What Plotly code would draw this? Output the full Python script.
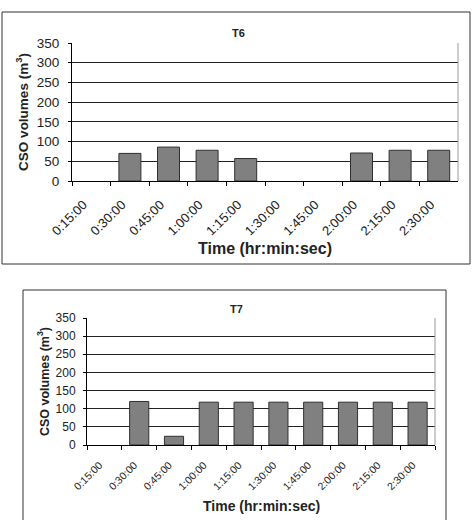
import plotly.graph_objects as go

times = ["0:15:00", "0:30:00", "0:45:00", "1:00:00", "1:15:00",
         "1:30:00", "1:45:00", "2:00:00", "2:15:00", "2:30:00"]
t6_values = [0, 70, 86, 78, 57, 0, 0, 71, 78, 78]
t7_values = [0, 120, 24, 118, 118, 118, 118, 118, 118, 118]
y_ticks = [0, 50, 100, 150, 200, 250, 300, 350]

W, H = 472, 520
FONT = "Liberation Sans, Arial, sans-serif"

def px(x):
    return x / W

def py(y):
    return 1 - y / H

fig = go.Figure()

def bar(vals, xa, ya, width):
    return go.Bar(x=times, y=vals, xaxis=xa, yaxis=ya, width=width,
                  marker=dict(color="#808080",
                              line=dict(color="#303030",
                                        width=[1 if v else 0 for v in vals])),
                  showlegend=False, hoverinfo="x+y")

fig.add_trace(bar(t6_values, "x", "y", 0.57))
fig.add_trace(bar(t7_values, "x2", "y2", 0.55))

def xaxis(domain, anchor, size, shift, standoff):
    return dict(domain=domain, anchor=anchor, type="category", tickson="boundaries",
                ticks="outside", ticklen=4, tickcolor="#000", tickwidth=1,
                showline=True, linecolor="#000", linewidth=1, showgrid=False,
                tickangle=-45, tickfont=dict(family=FONT, size=size, color="#222"),
                ticklabelshift=shift, ticklabelstandoff=standoff,
                range=[-0.5, 9.5], fixedrange=True, automargin=False)

def yaxis(domain, anchor, size, tsize, lab_standoff, title_standoff):
    return dict(domain=domain, anchor=anchor, range=[0, 350], tickvals=y_ticks,
                ticks="outside", ticklen=3, tickcolor="#000", showline=True,
                linecolor="#000", linewidth=1, showgrid=True, gridcolor="#222",
                gridwidth=1, zeroline=False, ticklabelstandoff=lab_standoff,
                tickfont=dict(family=FONT, size=size, color="#222"),
                title=dict(text="<b>CSO volumes (m<sup>3</sup>)</b>",
                           font=dict(family=FONT, size=tsize, color="#222"),
                           standoff=title_standoff),
                fixedrange=True, automargin=False)

x1 = [px(72), px(458)]
y1 = [py(181), py(43)]
x2 = [px(87), px(435)]
y2 = [py(445), py(318)]

fig.update_layout(
    width=W, height=H, margin=dict(l=0, r=0, t=0, b=0, autoexpand=False),
    paper_bgcolor="white", plot_bgcolor="white",
    xaxis=xaxis(x1, "y", 13, -8, 10),
    yaxis=yaxis(y1, "x", 13.5, 13.5, 6, 5),
    xaxis2=xaxis(x2, "y2", 10.5, -5, 9),
    yaxis2=yaxis(y2, "x2", 12, 12.5, 5, 3),
)

shapes = []
shapes.append(dict(type="rect", xref="paper", yref="paper", x0=px(2), x1=px(470),
                   y0=py(264), y1=py(12), line=dict(color="#333", width=1)))
shapes.append(dict(type="rect", xref="paper", yref="paper", x0=px(23), x1=px(446),
                   y0=py(530), y1=py(290), line=dict(color="#333", width=1)))
for xs, ys in [(x1, y1), (x2, y2)]:
    shapes.append(dict(type="line", xref="paper", yref="paper", x0=xs[1], x1=xs[1],
                       y0=ys[0], y1=ys[1], line=dict(color="#999", width=1)))
fig.update_layout(shapes=shapes)

ann = dict(xref="paper", yref="paper", showarrow=False, xanchor="center", yanchor="middle")
annotations = [
    dict(text="<b>T6</b>", x=px(238), y=py(33),
         font=dict(family=FONT, size=11, color="#222"), **ann),
    dict(text="<b>T7</b>", x=px(236), y=py(309),
         font=dict(family=FONT, size=11, color="#222"), **ann),
    dict(text="<b>Time (hr:min:sec)</b>", x=px(265), y=py(248),
         font=dict(family=FONT, size=16, color="#222"), **ann),
    dict(text="<b>Time (hr:min:sec)</b>", x=px(261), y=py(506),
         font=dict(family=FONT, size=14, color="#222"), **ann),
]
fig.update_layout(annotations=annotations)

fig.write_html("out.html")
